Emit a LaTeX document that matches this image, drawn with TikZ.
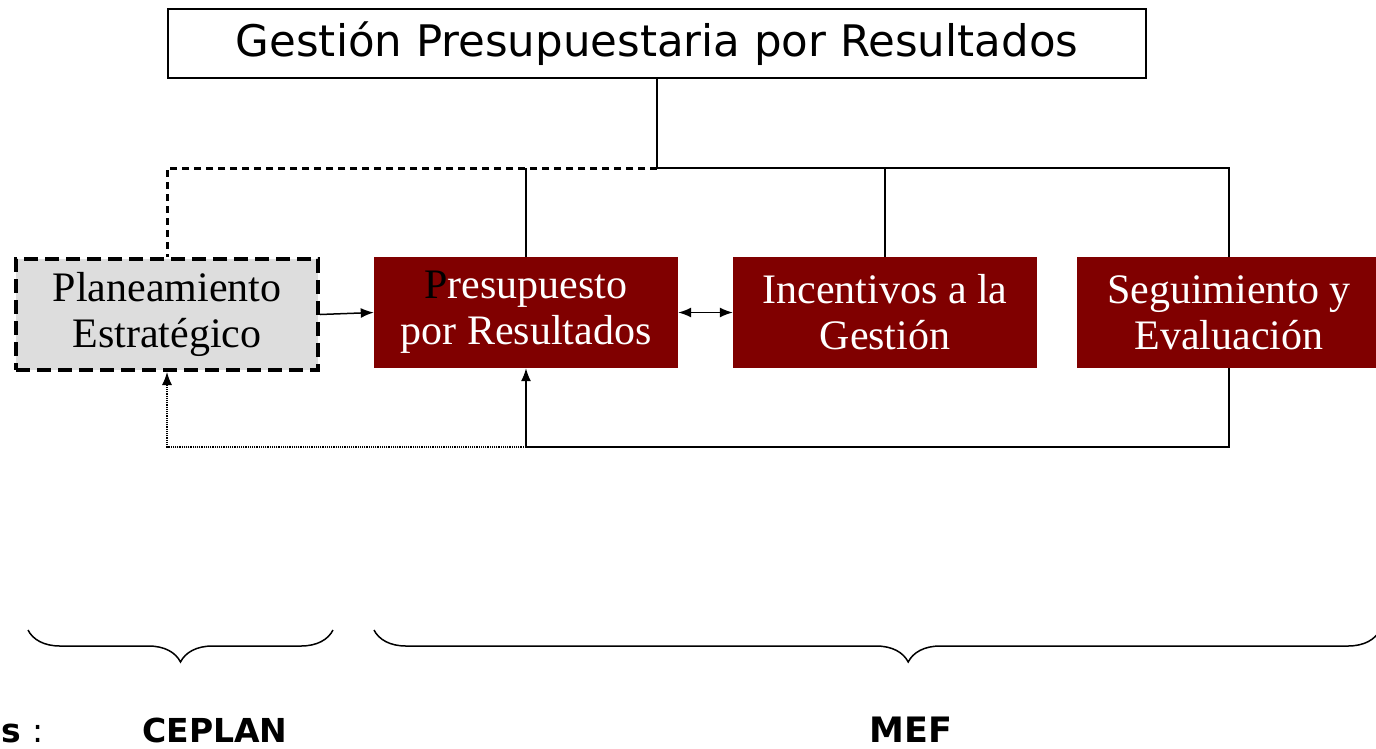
\documentclass[tikz,border=0pt]{standalone}
\usepackage{fontspec}
\setmainfont{Liberation Serif}
\setsansfont{DejaVu Sans}
\usepackage{tikz}
\usetikzlibrary{shapes,arrows.meta,decorations.pathreplacing}
\definecolor{granate}{RGB}{128,0,0}
\definecolor{gris}{RGB}{221,221,221}
\tikzstyle{titulo} =
        [
                rectangle,
                draw,
                line width = 2pt,
                fill = white,
                inner sep = 0pt,
                minimum width = 978pt,
                minimum height = 69pt,
                font = \sffamily\fontsize{43.5}{50}\selectfont
        ]
\tikzstyle{bloque} =
        [
                rectangle,
                % draw,
                fill = granate,
                text = white,
                align = center,
                inner sep = 0pt,
                minimum width = 304pt,
                minimum height = 111pt,
                font = \fontsize{42}{46}\selectfont
        ]
\tikzstyle{planbox} =
        [
                bloque,
                draw = black,
                fill = gris,
                text = black,
                line width = 4pt,
                dash pattern = on 14pt off 7pt,
                minimum width = 302pt
        ]
\tikzstyle{line} =
        [
                line width = 1.5pt,
                draw = black
        ]
\tikzstyle{flecha} =
        [
                line,
                -{Latex[length = 13pt, width = 10pt]}
        ]
\tikzstyle{discontinuo} =
        [
                line width = 3pt,
                dash pattern = on 7pt off 5pt
        ]
\tikzstyle{llave} =
        [
                line width = 1.5pt,
                decorate,
                decoration = {brace, mirror, amplitude = 32pt}
        ]
\tikzstyle{etiqueta} =
        [
                inner sep = 0pt,
                font = \sffamily\bfseries\fontsize{33}{38}\selectfont
        ]

\begin{document}
\begin{tikzpicture}[x=1pt, y=1pt]
    \clip (0,0) rectangle (1376,-748);
    \node [titulo] (gpr) at (657,-43.5) {Gestión Presupuestaria por Resultados};
    \node [planbox] (plan) at (167,-314.5) {Planeamiento\\Estratégico};
    \node [bloque] (ppr) at (526,-312.5) {{\color{black}P}resupuesto\\por Resultados};
    \node [bloque] (incentivos) at (885,-312.5) {Incentivos a la\\Gestión};
    \node [bloque] (seguimiento) at (1229,-312.5) {Seguimiento y\\Evaluación};
    \coordinate (nudo) at (657,-168);
    \coordinate (retorno) at (526,-447);
    % ramas desde el titulo
    \path [line, line width = 2.5pt] (gpr.south) -- (nudo);
    \path [line] (ppr.north) -- (ppr.north |- nudo);
    \path [line] (nudo) -| (seguimiento.north);
    \path [line] (incentivos.north) -- (incentivos.north |- nudo);
    \draw [discontinuo] (nudo) -| (plan.north);
    % flechas entre bloques
    \path [flecha] (plan.east) -- (ppr.west);
    \path [flecha, {Latex[length = 13pt, width = 10pt]}-{Latex[length = 13pt, width = 10pt]}] (ppr.east) -- (incentivos.west);
    % retroalimentacion
    \path [flecha] (seguimiento.south) |- (retorno) -- (ppr.south);
    \draw [densely dotted, line width = 1.2pt, -{Latex[length = 13pt, width = 10pt]}] (retorno) -| (plan.south);
    % llaves
    \draw [llave] (28,-630) -- (333,-630);
    \draw [llave, decoration = {aspect = 0.531}] (374,-630) -- (1380,-630);
    \node [etiqueta, anchor = base west] (resp) at (1,-742) {s\ \mdseries:};
    \node [etiqueta, anchor = base] (ceplan) at (215,-742) {CEPLAN};
    \node [etiqueta, anchor = base, font = \sffamily\bfseries\fontsize{35}{40}\selectfont] (mef) at (911,-742) {MEF};
\end{tikzpicture}
\end{document}
